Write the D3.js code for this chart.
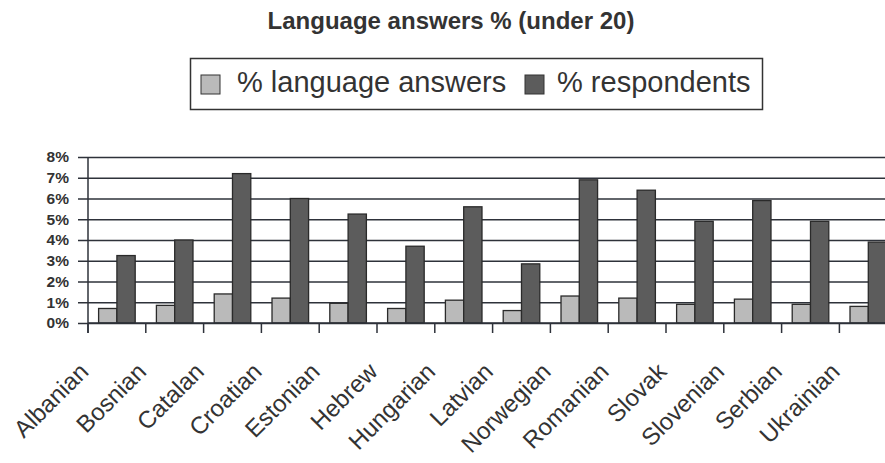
<!DOCTYPE html>
<html>
<head>
<meta charset="utf-8">
<script src="https://cdn.jsdelivr.net/npm/d3@7"></script>
<style>
    html, body { margin: 0; padding: 0; background: #ffffff; }
    #chart { width: 885px; height: 463px; overflow: hidden; }
    text { font-family: "Liberation Sans", Arial, sans-serif; fill: #333333; }
</style>
</head>
<body>
<div id="chart"></div>
<script>
//Datos
const idiomas = ['Albanian', 'Bosnian', 'Catalan', 'Croatian', 'Estonian', 'Hebrew', 'Hungarian',
    'Latvian', 'Norwegian', 'Romanian', 'Slovak', 'Slovenian', 'Serbian', 'Ukrainian'];
const respuestasIdioma = [0.7, 0.85, 1.4, 1.2, 0.95, 0.7, 1.1, 0.6, 1.3, 1.2, 0.9, 1.15, 0.9, 0.8];
const encuestados = [3.25, 4.0, 7.2, 6.0, 5.25, 3.7, 5.6, 2.85, 6.9, 6.4, 4.9, 5.9, 4.9, 3.9];
const series = ['% language answers', '% respondents'];
const ticksY = [0, 1, 2, 3, 4, 5, 6, 7, 8];
const titulo = 'Language answers % (under 20)';

//Colores fijos
const COLOR_LIGHT = '#bababa',
COLOR_DARK = '#5c5c5c',
COLOR_LINE = '#2e323a';

let data = idiomas.map(function(d, i) {
    return { idioma: d, '% language answers': respuestasIdioma[i], '% respondents': encuestados[i] };
});

let margin = {top: 157, right: 0, bottom: 140, left: 88},
    step = 57.8,
    width = idiomas.length * step,
    height = 463 - margin.top - margin.bottom; // 166

let root = d3.select('#chart')
    .append('svg')
        .attr('width', 885)
        .attr('height', 463);

//Título
root.append('text')
    .attr('x', 451)
    .attr('y', 29)
    .attr('text-anchor', 'middle')
    .style('font-size', '24px')
    .style('font-weight', '700')
    .text(titulo);

let svg = root.append('g')
    .attr('transform', 'translate(' + margin.left + ',' + margin.top + ')');

let x = d3.scaleBand()
    .domain(idiomas)
    .range([0, width])
    .padding(0);

let xSub = d3.scaleBand()
    .domain(series)
    .range([0, x.bandwidth()])
    .paddingInner(0)
    .paddingOuter(0.58);

let y = d3.scaleLinear()
    .domain([0, 8])
    .range([height, 0]);

let color = d3.scaleOrdinal()
    .domain(series)
    .range([COLOR_LIGHT, COLOR_DARK]);

//Eje Y con líneas de rejilla
let yAxis = function(g) {
    g.call(d3.axisLeft(y).tickValues(ticksY).tickSize(-(885 - margin.left)).tickSizeOuter(0).tickPadding(19)
        .tickFormat(function(d) { return d + '%'; }));
    g.call(function(g) { g.select('.domain').remove(); });
    g.selectAll('.tick line')
        .attr('x1', -10)
        .attr('stroke', COLOR_LINE)
        .attr('stroke-width', 1.5);
    g.selectAll('.tick text')
        .style('font-size', '15.5px')
        .style('font-weight', '700')
        .attr('fill', '#333');
}

svg.append('g')
    .attr('class', 'yaxis')
    .call(yAxis);

//Barras
svg.append('g')
    .selectAll('g')
    .data(data)
    .enter()
    .append('g')
    .attr('transform', function(d) { return 'translate(' + x(d.idioma) + ',0)'; })
    .selectAll('rect')
    .data(function(d) { return series.map(function(key) { return {key: key, value: d[key]}; }); })
    .enter()
    .append('rect')
    .attr('x', function(d) { return xSub(d.key); })
    .attr('y', function(d) { return y(d.value); })
    .attr('width', xSub.bandwidth())
    .attr('height', function(d) { return height - y(d.value); })
    .attr('fill', function(d) { return color(d.key); })
    .attr('stroke', '#2a2a2a')
    .attr('stroke-width', 1.3);

//Eje X
let xAxis = function(g) {
    g.append('line')
        .attr('x1', 0).attr('x2', 885 - margin.left)
        .attr('y1', 0).attr('y2', 0)
        .attr('stroke', COLOR_LINE)
        .attr('stroke-width', 1.5);
    g.selectAll('.sep')
        .data(idiomas)
        .enter()
        .append('line')
        .attr('class', 'sep')
        .attr('x1', function(d) { return x(d); })
        .attr('x2', function(d) { return x(d); })
        .attr('y1', 0)
        .attr('y2', 10)
        .attr('stroke', COLOR_LINE)
        .attr('stroke-width', 1.5);
    g.selectAll('.lbl')
        .data(idiomas)
        .enter()
        .append('text')
        .attr('class', 'lbl')
        .attr('text-anchor', 'end')
        .attr('transform', function(d) {
            return 'translate(' + (x(d) + x.bandwidth() / 2 - 27) + ',50) rotate(-45)';
        })
        .style('font-size', '24px')
        .text(function(d) { return d; });
}

svg.append('g')
    .attr('transform', 'translate(0,' + height + ')')
    .call(xAxis);

//Eje Y (línea)
svg.append('line')
    .attr('x1', 0).attr('x2', 0)
    .attr('y1', 0).attr('y2', height + 10)
    .attr('stroke', COLOR_LINE)
    .attr('stroke-width', 1.5);

//Leyenda
let legend = root.append('g');

legend.append('rect')
    .attr('x', 190.5)
    .attr('y', 58.5)
    .attr('width', 572)
    .attr('height', 51)
    .attr('fill', '#fff')
    .attr('stroke', '#333')
    .attr('stroke-width', 1.5);

let legendPos = [{sx: 201, tx: 237}, {sx: 525, tx: 557}];

series.forEach(function(s, i) {
    legend.append('rect')
        .attr('x', legendPos[i].sx)
        .attr('y', 75)
        .attr('width', 19)
        .attr('height', 19)
        .attr('fill', color(s))
        .attr('stroke', '#333')
        .attr('stroke-width', 1);
    legend.append('text')
        .attr('x', legendPos[i].tx)
        .attr('y', 92)
        .style('font-size', '29px')
        .text(s);
});
</script>
</body>
</html>
